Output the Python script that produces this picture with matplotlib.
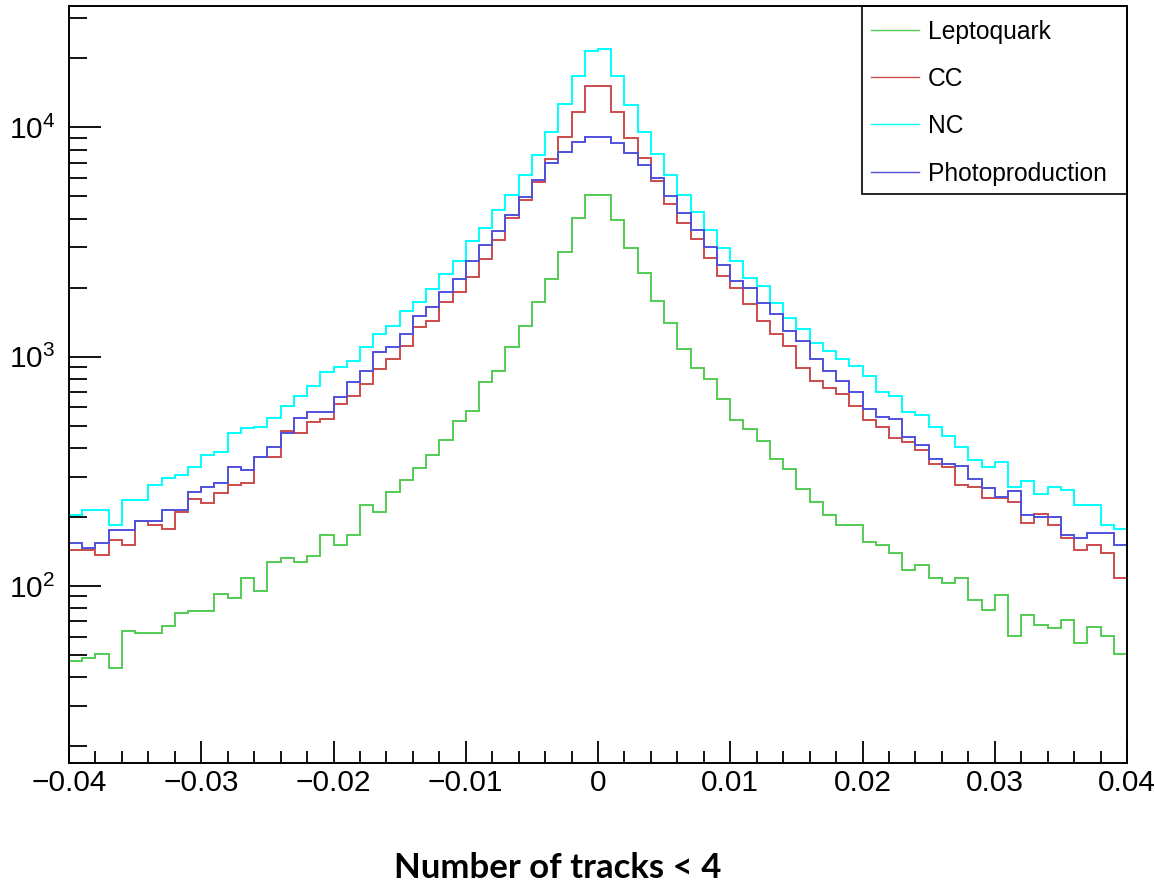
import numpy as np
import matplotlib
matplotlib.use("Agg")
import matplotlib.pyplot as plt
from matplotlib.ticker import (LogLocator, NullFormatter, FixedLocator,
                               FixedFormatter, MultipleLocator)
from matplotlib.patches import Rectangle
from matplotlib.lines import Line2D

# ---------------- data ----------------
x_min, x_max, n_bins = -0.04, 0.04, 80

leptoquark = [47.2, 48.7, 50.4, 44.0, 63.6, 62.6, 62.6, 66.9, 76.5, 77.8,
              77.8, 92.0, 88.9, 108.7, 95.1, 127.6, 132.8, 127.6, 135.2, 166.9,
              150.9, 166.9, 225.6, 210.9, 257.8, 290, 326, 373, 433, 526,
              582, 773, 869, 1099, 1365, 1727, 2182, 2853, 4014, 5073,
              5073, 3947, 2970, 2325, 1750, 1407, 1077, 895, 797, 652,
              527, 484, 430, 358, 324, 265, 233, 204, 185, 185,
              156, 151, 139, 117, 123, 108, 103, 108, 86.9, 78.6,
              91.4, 60.5, 74.7, 67.6, 65.4, 71.1, 56.6, 66.5, 60.5, 50.4]

cc = [144, 144, 137, 159, 151, 191, 185, 178, 211, 240,
      229, 254, 276, 280, 366, 366, 476, 463, 521, 535,
      622, 676, 760, 884, 977, 1117, 1343, 1435, 1727, 1910,
      2234, 2668, 3228, 4014, 4824, 5797, 7281, 9109, 11640, 15200,
      15200, 11710, 8965, 7332, 5838, 4620, 3840, 3251, 2702, 2249,
      2000, 1693, 1431, 1252, 1113, 895, 783, 733, 686, 610,
      530, 495, 441, 423, 392, 341, 331, 276, 271, 241,
      241, 233, 188, 206, 185, 162, 144, 151, 139, 108]

nc = [204, 215, 215, 185, 237, 237, 276, 295, 305, 331,
      373, 385, 463, 487, 495, 539, 611, 676, 747, 855,
      899, 961, 1099, 1256, 1365, 1587, 1727, 1974, 2295, 2622,
      3206, 3631, 4363, 5073, 6200, 7577, 9579, 12650, 16810, 21600,
      21980, 16810, 12520, 9579, 7656, 6200, 5073, 4290, 3569, 2970,
      2615, 2211, 2034, 1720, 1479, 1317, 1151, 1059, 974, 911,
      824, 704, 676, 576, 555, 494, 452, 404, 353, 330,
      346, 269, 288, 252, 269, 262, 226, 226, 185, 178]

photoproduction = [154, 146, 154, 175, 175, 191, 191, 215, 215, 256,
                   271, 280, 331, 321, 366, 405, 463, 539, 572, 572,
                   665, 773, 869, 1045, 1099, 1256, 1510, 1642, 1910, 2182,
                   2622, 3070, 3544, 4150, 4987, 5897, 6973, 7834, 8610, 9109,
                   9109, 8524, 7709, 6855, 5998, 5022, 4234, 3569, 3018, 2511,
                   2138, 2000, 1720, 1531, 1295, 1171, 974, 866, 783, 698,
                   591, 544, 535, 447, 410, 358, 341, 335, 293, 267,
                   245, 260, 204, 200, 200, 167, 162, 170, 170, 151]

series_names = ["Leptoquark", "CC", "NC", "Photoproduction"]
series_values = [leptoquark, cc, nc, photoproduction]
series_colors = ["#52cc52", "#cc4c4c", "#00ffff", "#5050dc"]

x_tick_values = [-0.04, -0.03, -0.02, -0.01, 0.0, 0.01, 0.02, 0.03, 0.04]
x_tick_labels = ["\u22120.04", "\u22120.03", "\u22120.02", "\u22120.01", "0",
                 "0.01", "0.02", "0.03", "0.04"]
x_label = "Number of tracks < 4"
y_limits = (16.9, 33800)

# ---------------- figure ----------------
plt.rcParams['font.family'] = ['Liberation Sans', 'DejaVu Sans']

W, H = 1155, 885
fig = plt.figure(figsize=(W / 100, H / 100), dpi=100)
ax_l, ax_r, ax_t, ax_b = 69, 1127, 6, 763
ax = fig.add_axes([ax_l / W, 1 - ax_b / H, (ax_r - ax_l) / W, (ax_b - ax_t) / H])

edges = np.linspace(x_min, x_max, n_bins + 1)
for vals, col in zip(series_values, series_colors):
    ax.stairs(vals, edges, color=col, lw=1.4, baseline=None)

ax.set_xlim(x_min, x_max)
ax.set_yscale('log')
ax.set_ylim(*y_limits)

ax.xaxis.set_major_locator(FixedLocator(x_tick_values))
ax.xaxis.set_major_formatter(FixedFormatter(x_tick_labels))
ax.xaxis.set_minor_locator(MultipleLocator(0.002))
ax.yaxis.set_major_locator(LogLocator(base=10, numticks=10))
ax.yaxis.set_minor_locator(LogLocator(base=10, subs=np.arange(2, 10), numticks=20))
ax.yaxis.set_minor_formatter(NullFormatter())

ax.tick_params(axis='x', which='major', direction='in', length=16, width=1.3,
               pad=4, labelsize=21.5, top=False)
ax.tick_params(axis='x', which='minor', direction='in', length=8.6, width=1.3, top=False)
ax.tick_params(axis='y', which='major', direction='in', length=23, width=1.3,
               pad=10, labelsize=21.5, right=False)
ax.tick_params(axis='y', which='minor', direction='in', length=13, width=1.3, right=False)
for s in ax.spines.values():
    s.set_linewidth(1.4)

ax.set_xlabel(x_label, fontsize=25, fontweight='bold',
              family=['Lato', 'DejaVu Sans'], va='center')
ax.xaxis.set_label_coords((558 - ax_l) / (ax_r - ax_l), (ax_b - 868) / (ax_b - ax_t))

# ---------------- legend (ROOT-style box) ----------------
lg_l, lg_r, lg_t, lg_b = 862, 1127, 6, 194
fig.add_artist(Rectangle((lg_l / W, 1 - lg_b / H), (lg_r - lg_l) / W, (lg_b - lg_t) / H,
                         transform=fig.transFigure, fill=False, ec='black', lw=1.2))
for i, (name, col) in enumerate(zip(series_names, series_colors)):
    y = 29.5 + 47.4 * i
    fig.add_artist(Line2D([871 / W, 919 / W], [1 - y / H, 1 - y / H],
                          transform=fig.transFigure, color=col, lw=1.0))
    fig.text(928 / W, 1 - (y + 9) / H, name, fontsize=17.7, va='baseline', ha='left')

fig.savefig("out.png", dpi=100)
